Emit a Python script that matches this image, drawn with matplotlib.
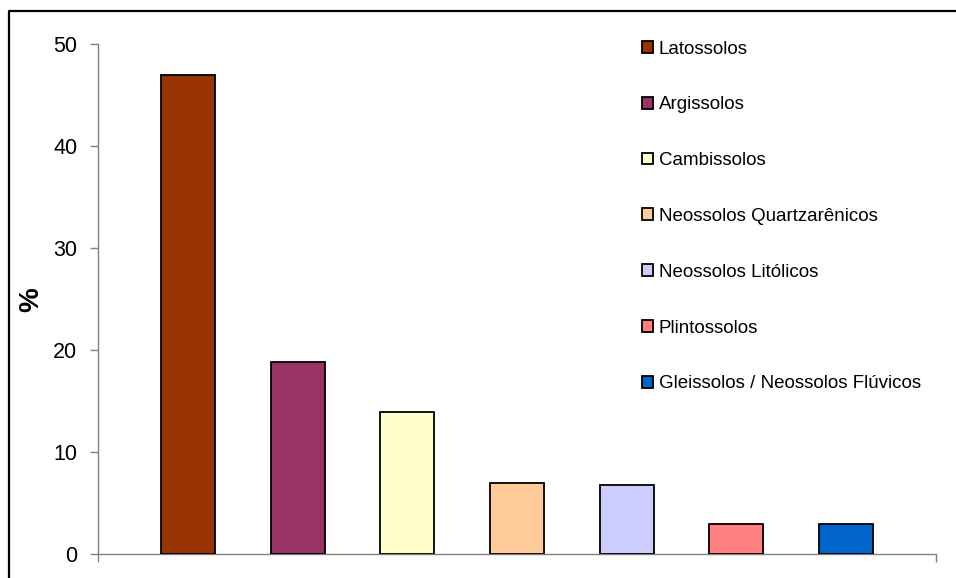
import matplotlib
matplotlib.use("Agg")
import matplotlib.pyplot as plt
from matplotlib.lines import Line2D

categories = ["Latossolos", "Argissolos", "Cambissolos", "Neossolos Quartzarênicos",
              "Neossolos Litólicos", "Plintossolos", "Gleissolos / Neossolos Flúvicos"]
values = [47.0, 18.8, 13.9, 7.0, 6.8, 2.9, 2.9]
colors = ["#993300", "#993366", "#FFFFCC", "#FFCC99", "#CCCCFF", "#FF8080", "#0066CC"]
yticks = [0, 10, 20, 30, 40, 50]

plt.rcParams['font.family'] = ['Liberation Sans', 'DejaVu Sans']

W, H = 956, 578
fig = plt.figure(figsize=(W / 100, H / 100), dpi=100)
ax = fig.add_axes([98 / W, 24 / H, (936 - 98) / W, (554 - 44) / H])

handles = []
for i, (c, v, col) in enumerate(zip(categories, values, colors)):
    b = ax.bar(i, v, width=0.49, color=col, edgecolor="black", linewidth=1.3, label=c, zorder=3)
    handles.append(b)

ax.set_xlim(-0.82, 6.82)
ax.set_ylim(0, 50)
ax.set_yticks(yticks)
ax.set_xticks([-0.82, 6.82])
ax.set_xticklabels([])
for s in ["top", "right"]:
    ax.spines[s].set_visible(False)
for s in ["left", "bottom"]:
    ax.spines[s].set_color("#808080")
    ax.spines[s].set_linewidth(1.0)
ax.tick_params(axis="y", direction="out", length=6, width=1.0, color="#808080",
               labelsize=15.5, pad=9)
ax.tick_params(axis="x", direction="out", length=6, width=1.0, color="#808080")
ax.set_ylabel("%", fontsize=20, fontweight="bold")
ax.yaxis.set_label_coords(-(98 - 44) / (936 - 98), (554 - 300) / (554 - 44))

leg = ax.legend(handles=handles, loc="upper left",
                bbox_to_anchor=(642 / W, 1 - 40.5 / H), bbox_transform=fig.transFigure,
                frameon=False, fontsize=13.5, handlelength=0.58, handleheight=0.58,
                handletextpad=0.32, labelspacing=2.07, borderpad=0, borderaxespad=0)

# outer chart border (left and top edges visible)
fig.add_artist(Line2D([8.5 / W, 8.5 / W, 1.0], [0.0, 1 - 10.5 / H, 1 - 10.5 / H],
                      transform=fig.transFigure, color="black", linewidth=1.6))

fig.savefig("out.png", dpi=100)
